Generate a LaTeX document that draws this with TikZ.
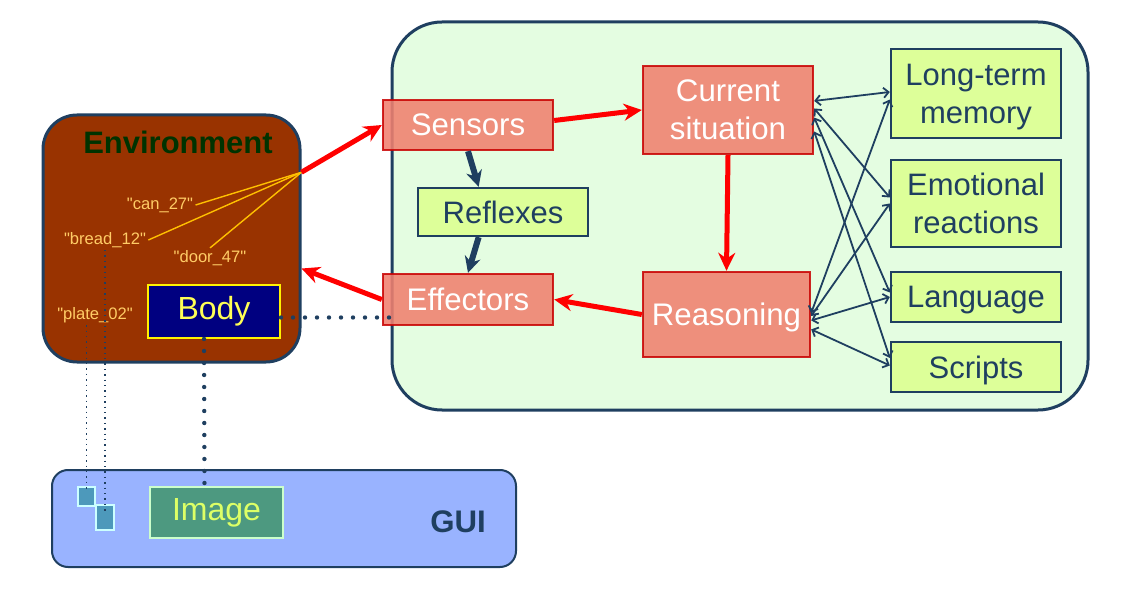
\documentclass[tikz,border=0pt]{standalone}
\usepackage{fontspec}
\setmainfont{Liberation Sans}[Ligatures=TeXOff]
\usetikzlibrary{positioning,arrows.meta}

\definecolor{navyline}{HTML}{1F3F60}
\definecolor{mindfill}{HTML}{E4FDE1}
\definecolor{salmon}{HTML}{F0806F}
\definecolor{darkred}{HTML}{C80000}
\definecolor{limefill}{HTML}{DDFF99}
\definecolor{envbrown}{HTML}{993300}
\definecolor{envgreen}{HTML}{003300}
\definecolor{tagorange}{HTML}{FFCC66}
\definecolor{linegold}{HTML}{FFC000}
\definecolor{bodynavy}{HTML}{000080}
\definecolor{bodytext}{HTML}{FFFF55}
\definecolor{guiblue}{HTML}{99B3FF}
\definecolor{imgfill}{HTML}{4D9980}
\definecolor{imgline}{HTML}{CCFFCC}
\definecolor{imgtext}{HTML}{DDFF66}
\definecolor{sqfill}{HTML}{4D99BB}
\definecolor{sqline}{HTML}{CCFFFF}

\begin{document}
\begin{tikzpicture}[
    x=0.5pt, y=-0.5pt,
    redbox/.style={
        draw=darkred,
        fill=salmon,
        line width=1.2pt,
        fill opacity=0.88,
        draw opacity=0.85,
        text opacity=1,
        text=white,
        align=center,
        inner sep=0pt,
        text depth=0pt,
        minimum width=85pt,
        font=\fontsize{15.6}{19}\selectfont
    },
    limebox/.style={
        draw=navyline,
        fill=limefill,
        line width=1.2pt,
        text=navyline,
        align=center,
        inner sep=0pt,
        text depth=0pt,
        minimum width=85pt,
        font=\fontsize{15.5}{19}\selectfont
    },
    tag/.style={text=tagorange, inner sep=1pt, font=\fontsize{8.3}{9}\selectfont},
    flow/.style={-{Stealth[length=9pt,width=8.5pt]}, draw=red, line width=2.5pt},
    reflex/.style={-{Stealth[length=8pt,width=8pt]}, draw=navyline, line width=3pt},
    link/.style={{Straight Barb[length=2.5pt,width=5pt]}-{Straight Barb[length=2.5pt,width=5pt]}, draw=navyline, line width=0.9pt},
    bigdots/.style={draw=navyline, line width=2.2pt, line cap=round, dash pattern=on 0pt off 6pt},
    smalldots/.style={draw=navyline, line width=0.7pt, dotted}
]
    \useasboundingbox (0,0) rectangle (1124,593);

    % Containers
    \node[draw=navyline, fill=mindfill, line width=1.5pt, rounded corners=25pt,
          minimum width=348pt, minimum height=194pt] (mind) at (740,216) {};
    \node[draw=navyline, fill=envbrown, line width=1.5pt, rounded corners=17pt,
          minimum width=128.5pt, minimum height=123.5pt] (env) at (171.5,238.5) {};
    \node[draw=navyline, fill=guiblue, line width=1pt, rounded corners=8pt,
          minimum width=232pt, minimum height=48.5pt] (gui) at (284,518.5) {};

    % Environment
    \node[text=envgreen, font=\bfseries\fontsize{15.5}{18}\selectfont] (envtitle) at (178,142) {Environment};
    \node[draw=yellow, fill=bodynavy, line width=1pt, text=bodytext, inner sep=0pt,
          minimum width=66pt, minimum height=26.5pt, font=\fontsize{16}{18}\selectfont] (body) at (214,311.5) {Body};
    \node[tag] (can) at (160,205) {"can\_27"};
    \node[tag] (bread) at (105,240) {"bread\_12"};
    \node[tag] (door) at (210,258) {"door\_47"};
    \node[tag] (plate) at (95,315) {"plate\_02"};
    \coordinate (eye) at (env.27);

    % GUI
    \node[text=navyline, font=\bfseries\fontsize{15.6}{18}\selectfont] (guilabel) at (458,522) {GUI};
    \node[draw=imgline, fill=imgfill, line width=0.8pt, text=imgtext, inner sep=0pt,
          minimum width=66.5pt, minimum height=25.5pt, font=\fontsize{16}{18}\selectfont] (img) at (216.5,512.5) {Image};
    \node[draw=sqline, fill=sqfill, line width=0.6pt, inner sep=0pt,
          minimum width=8.5pt, minimum height=9.5pt] (sqa) at (86.5,496.5) {};
    \node[draw=sqline, fill=sqfill, line width=0.6pt, inner sep=0pt,
          minimum width=9pt, minimum height=12.5pt] (sqb) at (105,517.5) {};

    % Mind
    \node[redbox, minimum height=25pt] (sens) at (468,125) {Sensors};
    \node[redbox, minimum height=44pt] (cur) at (728,110) {Current\\situation};
    \node[limebox, minimum height=24pt] (refl) at (503,212) {Reflexes};
    \node[redbox, minimum height=25.5pt] (eff) at (468,299.5) {Effectors};
    \node[redbox, minimum width=83.5pt, minimum height=42.5pt] (rea) at (726.5,314.5) {Reasoning};

    % Memory column
    \node[limebox, minimum height=44.5pt] (ltm) at (976,93.5) {Long-term\\memory};
    \node[limebox, minimum height=43.5pt] (emo) at (976,203.5) {Emotional\\reactions};
    \node[limebox, minimum height=25pt] (lang) at (976,297) {Language};
    \node[limebox, minimum height=25pt] (scr) at (976,367) {Scripts};

    % Object names
    \draw[linegold, line width=0.7pt] (can.east) -- (eye);
    \draw[linegold, line width=0.7pt] (bread.east) -- (eye);
    \draw[linegold, line width=0.7pt] (door.north) -- (eye);

    % Main loop
    \draw[flow] (eye) -- (sens.west);
    \draw[flow] (sens.3) -- (cur.west);
    \draw[flow] (cur.south) -- (rea.north);
    \draw[flow] (rea.west) -- (eff.east);
    \draw[flow] (eff.west) -- (env.-13);
    \draw[reflex] (sens.south) -- (refl.134);
    \draw[reflex] (refl.226) -- (eff.north);

    % Links to memory
    \draw[link] (cur.6) -- (ltm.179);
    \draw[link] (cur.1) -- (emo.176);
    \draw[link] (cur.-5) -- (lang.177);
    \draw[link] (cur.-14) -- (scr.174);
    \draw[link] (rea.1) -- (ltm.184);
    \draw[link] (rea.-1) -- (emo.180);
    \draw[link] (rea.-4) -- (lang.180);
    \draw[link] (rea.-10) -- (scr.179);

    % Dotted ties
    \draw[bigdots] ([yshift=-3pt]body.east) -- ([xshift=5pt,yshift=-3pt]body.east -| eff.west);
    \draw[bigdots] ([xshift=-5pt]body.south) -- ([xshift=-6pt]img.north);
    \draw[smalldots] (bread.south) -- ([yshift=2pt]sqb.center);
    \draw[smalldots] (sqa.center |- plate.south) -- ([yshift=2pt]sqa.center);
\end{tikzpicture}
\end{document}
